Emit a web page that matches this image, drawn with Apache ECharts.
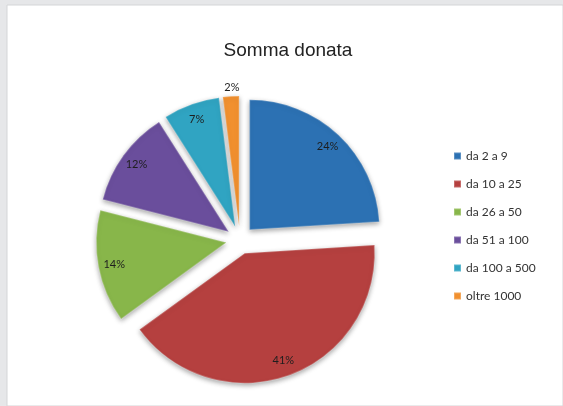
<!DOCTYPE html>
<html>
<head>
<meta charset="utf-8">
<script src="https://cdn.jsdelivr.net/npm/echarts@6/dist/echarts.min.js"></script>
<style>
  html, body { margin: 0; padding: 0; background: #e6e7e9; }
  #chart { width: 563px; height: 406px; }
</style>
</head>
<body>
<div id="chart"></div>
<script>
// Donation amount brackets and their share (%)
const categories = ['da 2 a 9', 'da 10 a 25', 'da 26 a 50', 'da 51 a 100', 'da 100 a 500', 'oltre 1000'];
const shares = [24, 41, 14, 12, 7, 2];
const palette = ['#2c71b3', '#b5403f', '#88b64a', '#6a4e9c', '#30a4c2', '#f1902f'];

const center = [240, 240];
const radius = 130;
const explode = 14;

const chart = echarts.init(document.getElementById('chart'), null, { renderer: 'canvas' });

const sliceData = categories.map((name, i) => ({
  name,
  value: shares[i],
  selected: true,
  itemStyle: { color: palette[i] }
}));

// Same slices again, transparent, so the percentage labels sit near the rim
const labelData = categories.map((name, i) => ({ name, value: shares[i], selected: true }));
const lastIndex = categories.length - 1;

chart.setOption({
  backgroundColor: '#e6e7e9',
  animation: false,
  graphic: [{
    type: 'rect',
    shape: { x: 7, y: 5, width: 556, height: 401 },
    style: { fill: '#ffffff', stroke: '#d4d5d7', lineWidth: 1 },
    z: -10
  }],
  title: {
    text: 'Somma donata',
    left: 283,
    textAlign: 'center',
    top: 36,
    textStyle: {
      fontFamily: 'Liberation Sans',
      fontSize: 19,
      fontWeight: 'normal',
      color: '#222222'
    }
  },
  legend: {
    orient: 'vertical',
    left: 453,
    top: 150,
    padding: 0,
    data: categories,
    icon: 'rect',
    itemWidth: 7,
    itemHeight: 7,
    itemGap: 16,
    selectedMode: false,
    textStyle: {
      fontFamily: 'Lato',
      fontSize: 12,
      lineHeight: 12,
      color: '#333333'
    }
  },
  series: [
    {
      type: 'pie',
      center,
      radius,
      startAngle: 90,
      clockwise: true,
      selectedMode: 'multiple',
      selectedOffset: explode,
      silent: true,
      label: { show: false },
      labelLine: { show: false },
      itemStyle: {
        borderColor: 'rgba(255,255,255,0.22)',
        borderWidth: 1.5,
        shadowBlur: 5,
        shadowOffsetY: 2,
        shadowColor: 'rgba(0,0,0,0.35)'
      },
      data: sliceData
    },
    {
      type: 'pie',
      center,
      radius: [92, radius],
      startAngle: 90,
      clockwise: true,
      selectedMode: 'multiple',
      selectedOffset: explode,
      silent: true,
      itemStyle: { color: 'rgba(0,0,0,0)' },
      label: {
        show: true,
        position: 'inside',
        // the thinnest wedge carries its label above the rim (blank lines push it up)
        formatter: p => p.dataIndex === lastIndex ? p.value + '%\n\n\n\n\n' : p.value + '%',
        fontFamily: 'Lato',
        fontSize: 11,
        lineHeight: 10,
        color: '#1e1e1e'
      },
      labelLine: { show: false },
      data: labelData
    }
  ]
});
</script>
</body>
</html>
